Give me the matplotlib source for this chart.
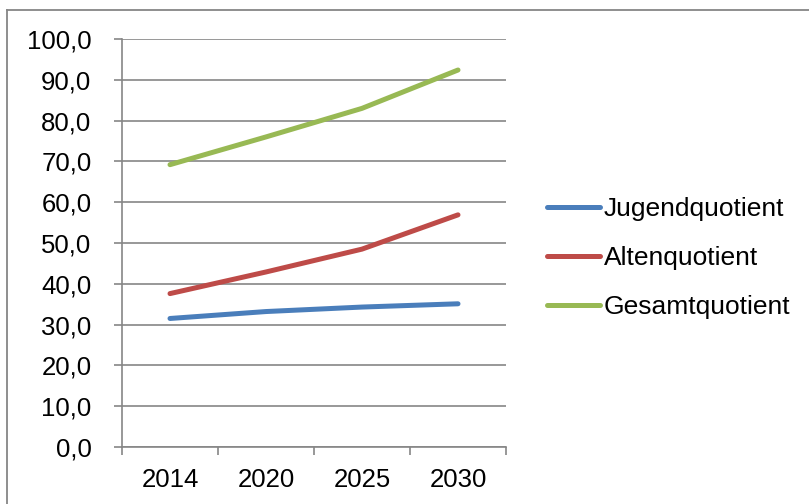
import matplotlib
matplotlib.use("Agg")
import matplotlib.pyplot as plt
from matplotlib.lines import Line2D
from matplotlib.ticker import FixedLocator, FuncFormatter

years = ["2014", "2020", "2025", "2030"]
jugend = [31.5, 33.2, 34.3, 35.1]
alten = [37.6, 42.9, 48.5, 56.9]
gesamt = [69.2, 76.0, 83.0, 92.4]
series_names = ["Jugendquotient", "Altenquotient", "Gesamtquotient"]
colors = ["#4A7EBB", "#BE4B48", "#98B954"]

plt.rcParams['font.family'] = ['Liberation Sans', 'DejaVu Sans']

W, H = 809, 504
fig = plt.figure(figsize=(W / 100, H / 100), dpi=100)
fig.patch.set_facecolor("white")

left, right, top, bottom = 122, 506, 39, 447
ax = fig.add_axes([left / W, 1 - bottom / H, (right - left) / W, (bottom - top) / H])

x = list(range(len(years)))
lines = []
for vals, c, name in zip([jugend, alten, gesamt], colors, series_names):
    ln, = ax.plot(x, vals, color=c, lw=3.6, solid_capstyle="round",
                  solid_joinstyle="round", label=name, zorder=3)
    lines.append(ln)

FS = 18.5
ax.set_xlim(-0.5, len(years) - 0.5)
ax.set_ylim(0, 100)
ax.set_yticks(range(0, 101, 10))
ax.yaxis.set_major_formatter(FuncFormatter(lambda v, p: f"{v:.1f}".replace(".", ",")))
ax.set_xticks(x)
ax.set_xticklabels(years)
ax.xaxis.set_minor_locator(FixedLocator([i - 0.5 for i in range(len(years) + 1)]))
ax.tick_params(axis="x", which="major", length=0, labelsize=FS, pad=15, colors="black")
ax.tick_params(axis="x", which="minor", length=6, width=1.2, color="#868686", direction="out")
ax.tick_params(axis="y", length=6, width=1.2, color="#868686", labelsize=FS, pad=16)
for lab in ax.get_xticklabels() + ax.get_yticklabels():
    lab.set_color("black")

ax.grid(axis="y", color="#868686", lw=1.2, zorder=1)
ax.set_axisbelow(True)
for s in ["top", "right"]:
    ax.spines[s].set_visible(False)
for s in ["left", "bottom"]:
    ax.spines[s].set_color("#868686")
    ax.spines[s].set_linewidth(1.2)

LFS = 19
leg = fig.legend(handles=lines, labels=series_names, loc="center left",
                 bbox_to_anchor=(547 / W, 1 - 258 / H), frameon=False,
                 fontsize=LFS, handlelength=2.0, handletextpad=0.15,
                 labelspacing=0.95, borderaxespad=0, borderpad=0)

# outer chart border (top and left visible)
fig.add_artist(Line2D([7 / W, 7 / W], [0, 1 - 10 / H], transform=fig.transFigure,
                      color="#868686", lw=1.3))
fig.add_artist(Line2D([7 / W, 1], [1 - 10 / H, 1 - 10 / H], transform=fig.transFigure,
                      color="#868686", lw=1.3))

fig.savefig("out.png", dpi=100, facecolor="white")
